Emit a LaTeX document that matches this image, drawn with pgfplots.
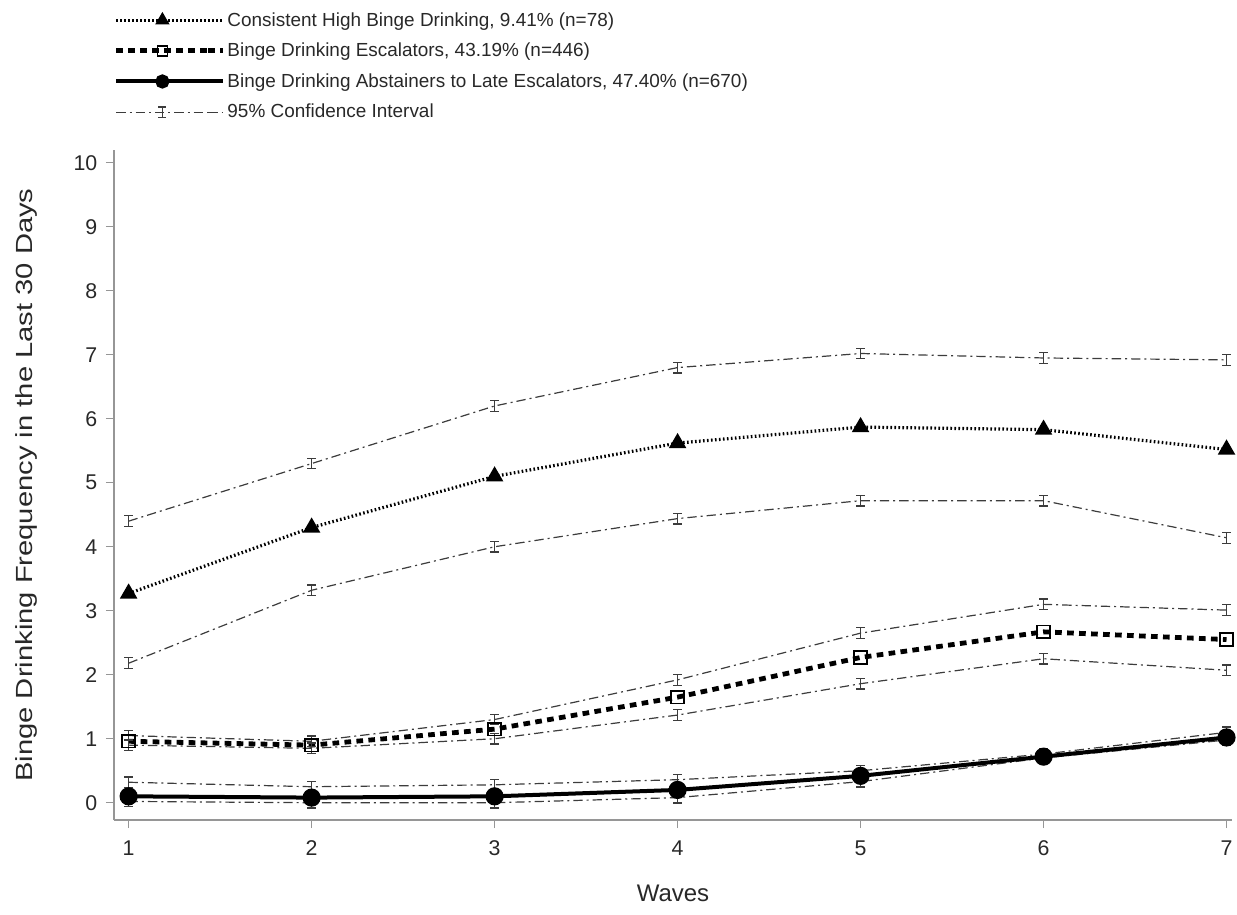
\documentclass[border=0pt]{standalone}
\usepackage{pgfplots}
\pgfplotsset{compat=1.18}
\usepackage{fontspec}
\setmainfont{Liberation Sans}
\definecolor{axgray}{RGB}{150,150,150}
\definecolor{txtgray}{RGB}{40,40,40}
\definecolor{cigray}{RGB}{60,60,60}
\pgfdeclareplotmark{ibar}{%
  \pgfpathmoveto{\pgfqpoint{0pt}{-\pgfplotmarksize}}%
  \pgfpathlineto{\pgfqpoint{0pt}{\pgfplotmarksize}}%
  \pgfpathmoveto{\pgfqpoint{-0.8\pgfplotmarksize}{\pgfplotmarksize}}%
  \pgfpathlineto{\pgfqpoint{0.8\pgfplotmarksize}{\pgfplotmarksize}}%
  \pgfpathmoveto{\pgfqpoint{-0.8\pgfplotmarksize}{-\pgfplotmarksize}}%
  \pgfpathlineto{\pgfqpoint{0.8\pgfplotmarksize}{-\pgfplotmarksize}}%
  \pgfusepathqstroke}
\tikzset{
  ci/.style={cigray, line width=0.9pt, dash pattern=on 7pt off 3pt on 1.5pt off 3pt,
    mark=ibar, mark size=4pt, mark options={solid, line width=0.9pt}},
}
\begin{document}
\begin{tikzpicture}
\useasboundingbox (-85.5pt,-70.5pt) rectangle (842.25pt,615pt);
\begin{axis}[
  at={(0,0)}, anchor=south west,
  scale only axis, width=838.5pt, height=502.5pt,
  xmin=0.92, xmax=7.03, ymin=-0.27, ymax=10.2,
  xtick={1,...,7}, ytick={0,...,10},
  axis x line*=bottom, axis y line*=left,
  axis line style={axgray, line width=1.2pt},
  tick style={axgray, line width=0.8pt},
  tick align=outside, major tick length=6pt,
  /pgf/number format/assume math mode=true,
  ticklabel style={txtgray, font=\fontsize{16}{19}\selectfont},
  xticklabel style={yshift=-6pt},
  yticklabel style={xshift=-3pt},
  label style={txtgray, font=\fontsize{18}{22}\selectfont},
  xlabel={Waves}, ylabel={\fontsize{17.5}{21}\selectfont\scalebox{1.25}[1]{Binge Drinking Frequency in the Last 30 Days}},
  xlabel style={at={(axis description cs:0.5,-0.109)}, anchor=center},
  ylabel style={at={(axis description cs:-0.064,0.5)}, anchor=south},
  clip=false,
  legend cell align=left,
  legend style={draw=none, fill=none, at={(0,1)}, anchor=south west,
    xshift=0pt, yshift=21pt, inner sep=0pt, outer sep=0pt,
    font=\fontsize{14.2}{17}\selectfont, text=txtgray, row sep=8.2pt,
    nodes={inner sep=1.5pt}},
  legend image code/.code={\draw[mark repeat=2,mark phase=2,mark size=3.8pt] plot coordinates {(0pt,0pt) (34.5pt,0pt) (69pt,0pt)};\path (69pt,0pt) -- (80pt,0pt);},
]
% CIs
\addplot[ci, forget plot] coordinates {(1,4.40) (2,5.30) (3,6.20) (4,6.80) (5,7.02) (6,6.95) (7,6.92)};
\addplot[ci, forget plot] coordinates {(1,2.18) (2,3.32) (3,4.00) (4,4.44) (5,4.72) (6,4.72) (7,4.14)};
\addplot[ci, forget plot] coordinates {(1,1.05) (2,0.96) (3,1.30) (4,1.92) (5,2.65) (6,3.10) (7,3.01)};
\addplot[ci, forget plot] coordinates {(1,0.90) (2,0.85) (3,1.00) (4,1.37) (5,1.86) (6,2.25) (7,2.07)};
\addplot[ci, forget plot] coordinates {(1,0.32) (2,0.25) (3,0.28) (4,0.36) (5,0.50) (6,0.76) (7,1.10)};
\addplot[ci, forget plot] coordinates {(1,0.02) (2,0.00) (3,0.00) (4,0.08) (5,0.33) (6,0.70) (7,0.98)};
% main series
\addplot[black, line width=2.4pt, dash pattern=on 1.2pt off 1.8pt, mark=triangle*, mark size=5.2pt, mark options={solid}]
  coordinates {(1,3.27) (2,4.30) (3,5.10) (4,5.62) (5,5.87) (6,5.83) (7,5.52)};
\addlegendentry{Consistent High Binge Drinking, 9.41\% (n=78)}
\addplot[black, line width=3.6pt, dash pattern=on 5pt off 4pt, mark=square, mark size=4.8pt, mark options={solid, line width=1.2pt, fill=white}]
  coordinates {(1,0.96) (2,0.90) (3,1.15) (4,1.65) (5,2.27) (6,2.67) (7,2.55)};
\addlegendentry{Binge Drinking Escalators, 43.19\% (n=446)}
\addplot[black, line width=3pt, mark=*, mark size=5.3pt]
  coordinates {(1,0.10) (2,0.08) (3,0.10) (4,0.20) (5,0.42) (6,0.72) (7,1.02)};
\addlegendentry{Binge Drinking Abstainers to Late Escalators, 47.40\% (n=670)}
\addlegendimage{ci}
\addlegendentry{95\% Confidence Interval}
\end{axis}
\end{tikzpicture}
\end{document}
